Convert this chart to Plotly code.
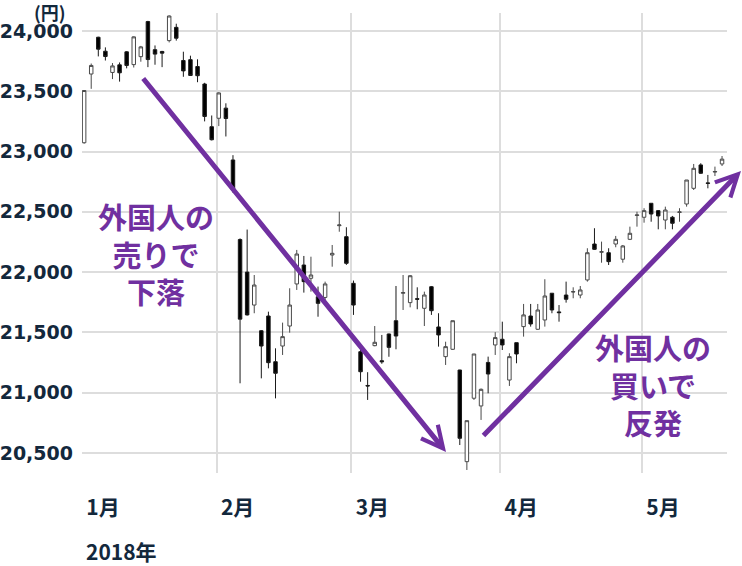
import plotly.graph_objects as go

# ---- categories: trading days of 2018 (Jan - May 18) ----
jan_days = [4, 5, 9, 10, 11, 12, 15, 16, 17, 18, 19, 22, 23, 24, 25, 26, 29, 30, 31]
feb_days = [1, 2, 5, 6, 7, 8, 9, 13, 14, 15, 16, 19, 20, 21, 22, 23, 26, 27, 28]
mar_days = [1, 2, 5, 6, 7, 8, 9, 12, 13, 14, 15, 16, 19, 20, 22, 23, 26, 27, 28, 29, 30]
apr_days = [2, 3, 4, 5, 6, 9, 10, 11, 12, 13, 16, 17, 18, 19, 20, 23, 24, 25, 26, 27]
may_days = [1, 2, 7, 8, 9, 10, 11, 14, 15, 16, 17, 18]
month_days = [jan_days, feb_days, mar_days, apr_days, may_days]
month_labels = ["1月", "2月", "3月", "4月", "5月"]

# ---- OHLC values (yen) ----
open_ = [23073, 23643, 23948, 23832, 23656, 23719, 23827, 23721, 23787, 24078,
         23845, 23830, 23920, 24030, 23755, 23762, 23705, 23560, 23206,
         23276, 23360, 22930, 22270, 22000, 21727, 21514, 21636, 21257, 21387,
         21553, 21902, 22059, 21949, 21796, 21790, 22142, 22385, 22294,
         21907, 21340, 21060, 21390, 21265, 21487, 21597, 21825, 21747, 21780,
         21700, 21879, 21545, 21299, 21360, 21188, 20428, 20954, 20890, 21251, 21396,
         21443, 21105, 21415, 21548, 21636, 21526, 21603, 21825, 21670, 21810,
         21835, 21810, 21935, 22233, 22165, 22161, 22233, 22107, 22272, 22470,
         22455, 22571, 22510, 22432, 22455, 22495, 22565, 22695, 22889, 22740, 22830, 22897]
high = [23506, 23730, 23952, 23864, 23734, 23739, 23833, 23955, 23876, 24084,
        23880, 23835, 24129, 24060, 23828, 23795, 23765, 23570, 23299,
        23492, 23400, 22970, 22280, 22353, 21976, 21520, 21672, 21368, 21581,
        21866, 22184, 22134, 22128, 21880, 21921, 22225, 22501, 22372,
        21930, 21360, 21170, 21553, 21479, 21490, 21885, 21976, 21975, 21874,
        21838, 21885, 21659, 21423, 21597, 21190, 20768, 21321, 21035, 21299, 21502,
        21589, 21327, 21415, 21736, 21736, 21736, 21941, 21825, 21727, 21921,
        21874, 21885, 22198, 22364, 22253, 22198, 22300, 22225, 22377, 22501,
        22530, 22571, 22515, 22543, 22466, 22530, 22764, 22897, 22903, 22806, 22875, 22963]
low = [23065, 23520, 23789, 23755, 23601, 23580, 23690, 23697, 23745, 23700,
       23720, 23700, 23905, 23920, 23620, 23628, 23575, 23250, 23092,
       23211, 23125, 22659, 21078, 21640, 21659, 21119, 21202, 20953, 21313,
       21498, 21852, 21830, 21838, 21630, 21769, 22045, 22335, 22060,
       21645, 21091, 20940, 21385, 21240, 21298, 21360, 21686, 21708, 21692,
       21553, 21645, 21382, 21230, 21355, 20566, 20359, 20940, 20774, 20995, 21313,
       21354, 21056, 21244, 21465, 21548, 21520, 21548, 21659, 21589, 21747,
       21783, 21783, 21921, 22184, 22078, 22059, 22206, 22078, 22266, 22377,
       22410, 22418, 22355, 22355, 22355, 22418, 22543, 22681, 22815, 22695, 22797, 22880]
close = [23506, 23714, 23849, 23788, 23710, 23653, 23714, 23951, 23868, 23763,
         23808, 23816, 24124, 23940, 23669, 23631, 23629, 23291, 23098,
         23486, 23274, 22682, 21610, 21645, 21893, 21387, 21249, 21161, 21465,
         21727, 22150, 21921, 21976, 21741, 21902, 22156, 22391, 22073,
         21727, 21174, 21056, 21418, 21257, 21376, 21470, 21830, 21970, 21775,
         21810, 21680, 21479, 21382, 21597, 20622, 20768, 21321, 21028, 21155, 21457,
         21396, 21299, 21321, 21645, 21570, 21686, 21802, 21686, 21664, 21775,
         21838, 21852, 22161, 22189, 22169, 22087, 22272, 22217, 22322, 22474,
         22510, 22482, 22466, 22515, 22405, 22499, 22764, 22861, 22820, 22736, 22834, 22937]

y_ticks = [20500, 21000, 21500, 22000, 22500, 23000, 23500, 24000]

# ---- annotation texts ----
sell_lines = ["外国人の", "売りで", "下落"]
buy_lines = ["外国人の", "買いで", "反発"]
unit_label = "(円)"
year_label = "2018年"

x = list(range(sum(len(d) for d in month_days)))
starts = []
acc = 0
for d in month_days:
    starts.append(acc)
    acc += len(d)
month_ticks = [s - 0.3 for s in starts]

NAVY = "#13283c"
PURPLE = "#7030a0"
GRID = "#dddddd"

fig = go.Figure(go.Candlestick(
    x=x, open=open_, high=high, low=low, close=close,
    increasing=dict(fillcolor="white", line=dict(color="#4a4a4a", width=1)),
    decreasing=dict(fillcolor="#000000", line=dict(color="#1a1a1a", width=1)),
    whiskerwidth=0, hoverinfo="skip",
))

# plot area in pixels: x 82..727, y 13..473
L, R, T, B = 82, 727, 13, 473
W, H = R - L, B - T

def px(xp):
    return (xp - L) / W

def py(yp):
    return (B - yp) / H

fig.update_layout(
    width=742, height=566,
    margin=dict(l=L, r=742 - R, t=T, b=566 - B, pad=0),
    paper_bgcolor="white", plot_bgcolor="white",
    showlegend=False, boxgap=0.3,
    xaxis=dict(
        range=[-0.3, 90.7], tickmode="array", tickvals=month_ticks, ticktext=month_labels,
        showgrid=True, gridcolor=GRID, gridwidth=1.5, zeroline=False, showline=False,
        ticks="", rangeslider=dict(visible=False), automargin=False,
        ticklabelshift=21, ticklabelstandoff=20,
        tickfont=dict(family="Noto Sans CJK JP", size=21, color=NAVY, weight="bold"),
    ),
    yaxis=dict(
        range=[20334, 24149], tickmode="array", tickvals=y_ticks, tickformat=",",
        showgrid=True, gridcolor=GRID, gridwidth=1.5, zeroline=False, showline=False,
        ticks="", ticklabelstandoff=8, automargin=False,
        tickfont=dict(family="DejaVu Sans", size=19, color=NAVY, weight="bold"),
    ),
)

ann = []
ann.append(dict(text=unit_label, xref="paper", yref="paper", x=px(50), y=py(12),
                xanchor="center", yanchor="middle", showarrow=False,
                font=dict(family="Noto Sans CJK JP", size=18, color=NAVY, weight="bold")))
ann.append(dict(text=year_label, xref="paper", yref="paper", x=px(84), y=py(551),
                xanchor="left", yanchor="middle", showarrow=False,
                font=dict(family="Noto Sans CJK JP", size=21, color=NAVY, weight="bold")))

blocks = [(sell_lines, 156, 253), (buy_lines, 653, 384)]
for lines, cx, cy in blocks:
    ann.append(dict(text="<br>".join(lines), xref="paper", yref="paper", x=px(cx), y=py(cy),
                    xanchor="center", yanchor="middle", align="center", showarrow=False,
                    font=dict(family="Noto Sans CJK JP", size=29, color=PURPLE, weight="bold")))

# arrows (tip, tail) in pixels
arrows = [((446, 452), (142, 77)), ((741, 171), (482, 437))]
for (hx, hy), (tx, ty) in arrows:
    ann.append(dict(text="", xref="paper", yref="paper", x=px(hx), y=py(hy),
                    ax=tx - hx, ay=ty - hy, showarrow=True, arrowhead=5,
                    arrowsize=0.85, arrowwidth=5, arrowcolor=PURPLE, standoff=0))

fig.update_layout(annotations=ann)
fig.write_html("out.html", config={"displayModeBar": False},
               post_script="document.body.style.margin='0';document.body.style.overflow='hidden';")
